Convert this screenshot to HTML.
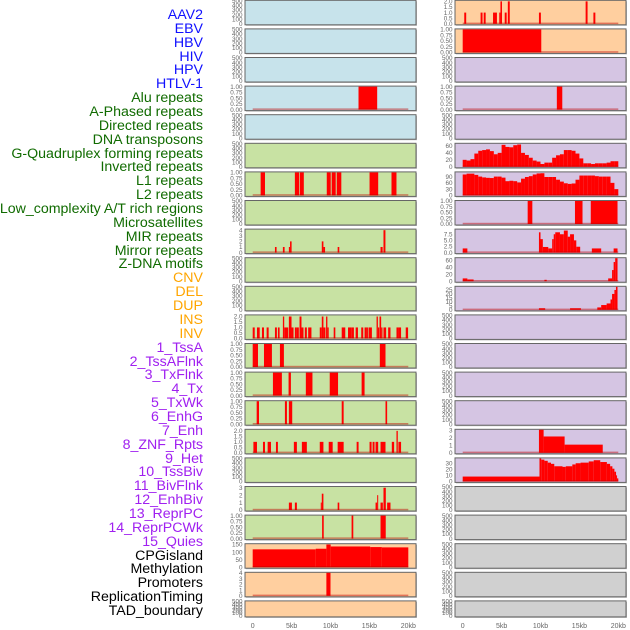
<!DOCTYPE html>
<html><head><meta charset="utf-8">
<style>
html,body{margin:0;padding:0;background:#fff;}
#wrap{position:relative;width:630px;height:630px;overflow:hidden;font-family:"Liberation Sans",sans-serif;}
.lbl{position:absolute;right:427px;font-size:14.2px;line-height:14px;white-space:nowrap;}
svg{position:absolute;left:0;top:0;}
</style></head>
<body>
<div id="wrap">
<div id="labels"></div>
<svg id="svg" width="630" height="630"></svg>
</div>
<script>
const labelNames = ["AAV2","EBV","HBV","HIV","HPV","HTLV-1","Alu repeats","A-Phased repeats","Directed repeats","DNA transposons","G-Quadruplex forming repeats","Inverted repeats","L1 repeats","L2 repeats","Low_complexity A/T rich regions","Microsatellites","MIR repeats","Mirror repeats","Z-DNA motifs","CNV","DEL","DUP","INS","INV","1_TssA","2_TssAFlnk","3_TxFlnk","4_Tx","5_TxWk","6_EnhG","7_Enh","8_ZNF_Rpts","9_Het","10_TssBiv","11_BivFlnk","12_EnhBiv","13_ReprPC","14_ReprPCWk","15_Quies","CPGisland","Methylation","Promoters","ReplicationTiming","TAD_boundary"];
const labelGroups = [0,0,0,0,0,0,1,1,1,1,1,1,1,1,1,1,1,1,1,2,2,2,2,2,3,3,3,3,3,3,3,3,3,3,3,3,3,3,3,4,4,4,4,4];
const groupColors = ["#1010ff","#106b00","#ffa500","#a020f0","#000000"];

const xTickVals = [0,5,10,15,20];
const xTickLabels = ["0","5kb","10kb","15kb","20kb"];

const L_alu = [[13.6,16.0,1]];
const L_l1 = [[1.02,1.58,1],[5.42,5.97,1],[6.06,6.57,1],[9.52,10.03,1],[10.15,10.67,1],[10.8,11.39,1],[15.02,16.13,1],[17.84,18.48,1]];
const L_mir = [[2.86,3.07,1],[3.88,4.1,1],[4.65,4.8,1],[4.8,5.0,2],[8.88,9.09,2],[9.09,9.3,1],[10.92,11.13,1],[16.43,16.7,1],[16.81,17.06,4]];
const L_ins = [[0,0.26,1],[0.55,0.9,1],[1.19,1.45,1],[1.79,2.05,1],[2.86,3.11,1],[3.24,3.46,1],[3.88,4.05,2],[4.05,4.57,1],[4.65,4.99,2],[4.99,5.25,1],[5.42,5.68,1],[5.68,5.93,1],[6.02,6.27,2],[6.27,6.53,1],[6.7,6.96,1],[7.13,7.55,1],[8.62,8.88,1],[8.88,9.09,2],[9.09,9.35,1],[9.43,9.6,2],[9.6,9.77,1],[10.41,10.62,1],[11.44,11.9,1],[12.25,12.67,1],[12.67,13.01,1],[13.23,13.53,1],[13.95,14.21,1],[14.38,14.64,1],[14.64,14.81,1],[14.89,15.32,1],[15.92,16.09,2],[16.09,16.26,1],[16.3,16.51,2],[16.51,16.68,1],[16.81,17.15,1],[17.41,17.71,1],[18.48,18.73,1],[18.73,19.07,1],[19.67,19.97,1]];
const L_tssa = [[0,0.68,1],[1.45,2.47,1],[3.5,4.01,1],[16.34,17.07,1]];
const L_tssaflnk = [[2.6,3.75,1],[4.61,4.91,1],[6.83,7.68,1],[9.9,10.97,1],[14.0,14.38,1]];
const L_txflnk = [[0.51,0.81,1],[4.14,4.4,1],[4.65,5.08,1],[11.44,11.69,1],[17.07,17.28,1]];
const L_tx = [[0.09,0.55,1],[1.32,1.58,1],[1.92,2.35,1],[2.99,3.24,1],[5.29,5.68,1],[6.32,6.96,1],[8.62,9.09,1],[9.77,10.28,1],[10.92,11.69,1],[13.36,13.61,1],[15.02,15.28,1],[15.41,15.66,1],[15.79,16.13,1],[16.43,17.07,1],[17.88,18.18,1],[18.48,18.65,2],[18.73,19.07,1]];
const L_enhg = [[4.65,5.04,1],[5.42,5.68,1],[8.75,8.88,1],[8.88,9.09,2.2],[10.92,11.13,1],[15.79,16.0,1],[16.0,16.13,2],[16.43,16.73,1],[16.81,17.11,3],[17.28,17.71,1]];
const L_enh = [[8.92,9.13,1],[12.71,12.93,1],[16.43,17.1,1]];
const L_cpg = [[0,8.1,118],[8.1,9.47,122],[9.47,10.02,150],[10.02,15.1,137],[15.1,16.6,133],[16.6,20,131]];
const L_prom = [[9.47,10.0,4]];

const R_aav2 = [[0.2,0.45,1],[2.3,2.55,1],[2.7,2.95,1],[3.9,4.15,1],[4.15,4.4,1],[4.7,4.85,1],[4.85,5.05,2],[5.4,5.65,1],[5.8,6.05,2],[9.8,10.05,1],[15.8,16.05,2],[16.8,17.05,1]];
const R_hbv = [[0,10.1,1]];
const R_alu = [[12.1,12.8,1]];
const R_gquadBins = [20,18,22,38,46,48,50,45,36,40,63,57,56,62,64,40,34,26,18,15,8,12,12,26,33,36,48,48,46,38,24,10,10,8,10,10,10,12,16,16];
const R_l1Bins = [100,104,104,98,90,86,84,83,90,90,85,68,70,68,62,80,88,92,100,105,106,88,88,88,75,66,58,55,57,75,95,95,95,95,92,90,90,90,60,30];
const R_l2 = [[8.35,8.95,1],[14.43,15.4,1],[16.46,19.9,1]];
const R_mir = [[0,0.6,1.7],[9.8,10.0,8.3],[10.0,10.3,5.5],[10.3,11.0,2.3],[11.0,11.5,1.7],[11.5,11.7,5.5],[11.7,11.9,7.5],[11.9,12.5,8.3],[12.5,13.0,7.5],[13.0,13.5,9],[13.5,13.8,6.5],[13.8,14.3,7.5],[14.3,14.6,5],[14.6,15.1,2.4],[16.6,17.8,1.7],[19.4,19.9,1.7]];
const R_zdna = [[0,0.6,8],[0.6,1.4,5],[10.5,10.8,4],[18.7,19.2,8],[19.2,19.4,32],[19.4,19.6,55],[19.6,19.9,66]];
const R_cnv = [[9.8,10.6,2],[13.8,15.2,2],[17.3,17.8,3],[17.8,18.5,6],[18.5,19.0,8],[19.0,19.2,13],[19.2,19.5,20],[19.5,19.7,25],[19.7,19.9,29]];
const R_znf = [[9.8,10.4,3.1],[10.4,13.1,2.2],[13.1,18.0,1.1]];
const R_het = [[0,9.87,8],[9.87,10.09,38],[10.09,10.5,36],[10.5,10.93,34],[10.93,11.35,31],[11.35,11.77,29],[11.77,12.83,25],[12.83,13.25,24],[13.25,14.09,25],[14.09,14.52,28],[14.52,15.15,30],[15.15,16.2,31],[16.2,16.84,33],[16.84,17.68,35],[17.68,18.53,32],[18.53,18.95,29],[18.95,19.24,25],[19.24,19.5,21],[19.5,19.71,16],[19.71,19.83,10],[19.83,20.0,5]];

const T_empty = ["0","100","200","300","400","500"];
const T_frac = ["0.00","0.25","0.50","0.75","1.00"];

const BLUE="#c7e3eb", GREEN="#c8e2a3", ORANGE="#ffcf9f", PURPLE="#d5c5e3", GRAY="#d0d0d0";
const leftRows = [
 [null,500,[0,100,200,300,400,500],T_empty,BLUE],
 [null,500,[0,100,200,300,400,500],T_empty,BLUE],
 [null,500,[0,100,200,300,400,500],T_empty,BLUE],
 [L_alu,1,[0,0.25,0.5,0.75,1],T_frac,BLUE],
 [null,500,[0,100,200,300,400,500],T_empty,BLUE],
 [null,500,[0,100,200,300,400,500],T_empty,GREEN],
 [L_l1,1,[0,0.25,0.5,0.75,1],T_frac,GREEN],
 [null,500,[0,100,200,300,400,500],T_empty,GREEN],
 [L_mir,4.1,[0,1,2,3,4],["0","1","2","3","4"],GREEN],
 [null,500,[0,100,200,300,400,500],T_empty,GREEN],
 [null,500,[0,100,200,300,400,500],T_empty,GREEN],
 [L_ins,2.1,[0,0.5,1,1.5,2],["0.0","0.5","1.0","1.5","2.0"],GREEN],
 [L_tssa,1,[0,0.25,0.5,0.75,1],T_frac,GREEN],
 [L_tssaflnk,1,[0,0.25,0.5,0.75,1],T_frac,GREEN],
 [L_txflnk,1,[0,0.25,0.5,0.75,1],T_frac,GREEN],
 [L_tx,2.1,[0,0.5,1,1.5,2],["0.0","0.5","1.0","1.5","2.0"],GREEN],
 [null,500,[0,100,200,300,400,500],T_empty,GREEN],
 [L_enhg,3.1,[0,1,2,3],["0","1","2","3"],GREEN],
 [L_enh,1,[0,0.25,0.5,0.75,1],T_frac,GREEN],
 [L_cpg,152,[0,50,100,150],["0","50","100","150"],ORANGE],
 [L_prom,4,[0,1,2,3,4],["0","1","2","3","4"],ORANGE],
 [null,500,[0,100,200,300,400,500],T_empty,ORANGE]
];
const rightRows = [
 [R_aav2,2.05,[0,0.5,1,1.5,2],["0.0","0.5","1.0","1.5","2.0"],ORANGE],
 [R_hbv,1,[0,0.25,0.5,0.75,1],T_frac,ORANGE],
 [null,500,[0,100,200,300,400,500],T_empty,PURPLE],
 [R_alu,1,[0,0.25,0.5,0.75,1],T_frac,PURPLE],
 [null,500,[0,100,200,300,400,500],T_empty,PURPLE],
 ["gq",66,[0,20,40,60],["0","20","40","60"],PURPLE],
 ["l1",110,[0,30,60,90],["0","30","60","90"],PURPLE],
 [R_l2,1,[0,0.25,0.5,0.75,1],T_frac,PURPLE],
 [R_mir,9.4,[0,2.5,5,7.5],["0.0","2.5","5.0","7.5"],PURPLE],
 [R_zdna,66,[0,20,40,60],["0","20","40","60"],PURPLE],
 [R_cnv,29,[0,5,10,15,20,25],["0","5","10","15","20","25"],PURPLE],
 [null,500,[0,100,200,300,400,500],T_empty,PURPLE],
 [null,500,[0,100,200,300,400,500],T_empty,PURPLE],
 [null,500,[0,100,200,300,400,500],T_empty,PURPLE],
 [null,500,[0,100,200,300,400,500],T_empty,PURPLE],
 [R_znf,3.1,[0,1,2,3],["0","1","2","3"],PURPLE],
 [R_het,38,[0,10,20,30],["0","10","20","30"],PURPLE],
 [null,500,[0,100,200,300,400,500],T_empty,GRAY],
 [null,500,[0,100,200,300,400,500],T_empty,GRAY],
 [null,500,[0,100,200,300,400,500],T_empty,GRAY],
 [null,500,[0,100,200,300,400,500],T_empty,GRAY],
 [null,500,[0,100,200,300,400,500],T_empty,GRAY]
];

const labelsDiv = document.getElementById('labels');
labelNames.forEach((n,i)=>{
  const d=document.createElement('div');
  d.className='lbl';
  
  
  d.style.top=(8+i*13.86)+'px';
  d.style.color=groupColors[labelGroups[i]];
  d.textContent=n;
  labelsDiv.appendChild(d);
});

const svg=document.getElementById('svg');
const NS="http://www.w3.org/2000/svg";
function mk(tag,attrs,parent){const e=document.createElementNS(NS,tag);for(const k in attrs)e.setAttribute(k,attrs[k]);(parent||svg).appendChild(e);return e;}

const cols=[{x:245,rows:leftRows,name:'left'},{x:455,rows:rightRows,name:'right'}];
const PW=171, PAD=7.7, PITCH=28.6, PH=24.5;

cols.forEach(col=>{
  const xScale=kb=>col.x+PAD+kb/20*(PW-2*PAD);
  col.rows.forEach((row,i)=>{
    const [data,ymax,tv,tl,bg]=row;
    const top=0.3+i*PITCH;
    const h=(i===col.rows.length-1)?16:PH;
    const g=mk('g',{});
    
    
    mk('rect',{x:col.x+1,y:top+1,width:PW,height:h,fill:'#bbb'},g);
    mk('rect',{x:col.x,y:top,width:PW,height:h,fill:bg,stroke:'#666',"stroke-width":1},g);
    const y0=top+h-1, y1=top+0.5;
    const yScale=v=>y0-v/ymax*(y0-y1);
    tv.forEach((v,k)=>{
      const t=mk('text',{x:col.x-2.5,y:yScale(v)+2.2,"font-size":6.3,fill:'#666',"text-anchor":'end',"font-family":'Liberation Sans, sans-serif'},g);
      
      
      t.textContent=tl[k];
    });
    if(data){
      let segs=data;
      if(data==='gq') segs=R_gquadBins.map((v,k)=>[k*0.5,(k+1)*0.5,v]);
      if(data==='l1') segs=R_l1Bins.map((v,k)=>[k*0.5,(k+1)*0.5,v]);
      segs.forEach(s=>{
        const xa=xScale(s[0]), xb=xScale(s[1]);
        const r=mk('rect',{x:xa,y:yScale(s[2]),width:Math.max(1,xb-xa),height:y0-yScale(s[2]),fill:'#ff0000'},g);
        
        
      });
      mk('rect',{x:xScale(0),y:y0-1.2,width:xScale(20)-xScale(0),height:1.5,fill:'rgba(190,0,0,0.45)'},g);
    }
  });
  xTickVals.forEach((v,k)=>{
    const t=mk('text',{x:xScale(v),y:628,"font-size":7,fill:'#666',"text-anchor":'middle',"font-family":'Liberation Sans, sans-serif'});
    
    
    t.textContent=xTickLabels[k];
  });
});
</script>
</body></html>
